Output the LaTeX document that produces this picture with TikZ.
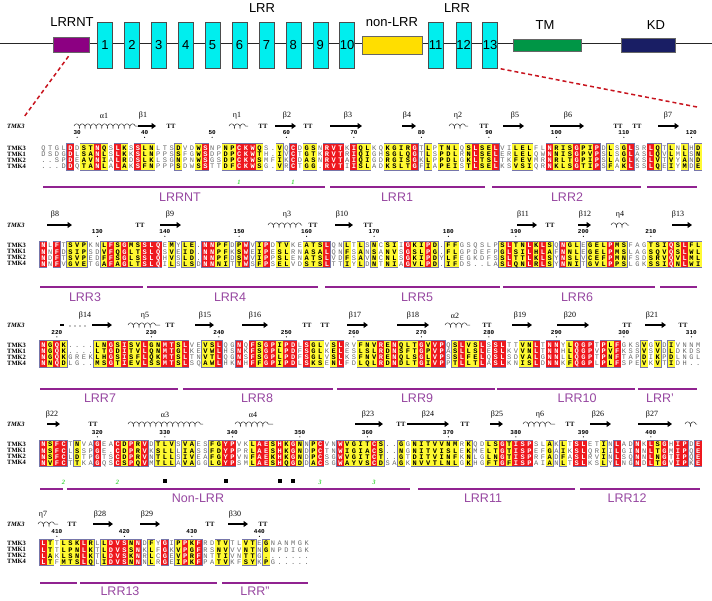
\documentclass[tikz,border=0pt]{standalone}
\usepackage{fontspec}
\setmainfont{Liberation Serif}
\setsansfont{Liberation Sans}
\setmonofont{Liberation Mono}
\usetikzlibrary{arrows.meta,decorations.pathmorphing}

\definecolor{espred}{RGB}{238,24,30}
\definecolor{espyellow}{RGB}{255,250,50}
\definecolor{espframe}{RGB}{118,118,170}
\definecolor{resgrey}{RGB}{105,105,105}
\definecolor{lrrpurple}{RGB}{145,35,145}
\definecolor{labpurple}{RGB}{150,70,160}
\definecolor{lrrcyan}{RGB}{0,238,238}
\definecolor{ntpurple}{RGB}{140,0,130}
\definecolor{nonyellow}{RGB}{255,222,0}
\definecolor{tmgreen}{RGB}{0,150,70}
\definecolor{kdnavy}{RGB}{25,30,100}
\definecolor{bridgegreen}{RGB}{60,215,60}
\definecolor{zoomred}{RGB}{200,20,30}

\tikzset{
  resr/.style={anchor=base,inner sep=0pt,font=\fontsize{7}{8}\ttfamily\bfseries,text=white},
  resy/.style={anchor=base,inner sep=0pt,font=\fontsize{7}{8}\ttfamily\bfseries,text=black},
  resw/.style={anchor=base,inner sep=0pt,font=\fontsize{7}{8}\ttfamily,text=resgrey},
  rowlab/.style={anchor=west,inner sep=0pt,font=\fontsize{6.5}{7}\selectfont\bfseries},
  sslab/.style={inner sep=0pt,font=\fontsize{8}{9}\selectfont},
  ttlab/.style={inner sep=0pt,font=\fontsize{6.5}{7}\selectfont\bfseries},
  numlab/.style={inner sep=0pt,font=\fontsize{6}{7}\ttfamily\bfseries},
  strand/.style={line width=1.6pt,-{Triangle[length=4.5pt,width=6pt]}},
  helix/.style={decorate,decoration={coil,aspect=0.55,segment length=5.6pt,amplitude=2.2pt},line width=0.5pt,black!80},
  domline/.style={lrrpurple,line width=1.8pt},
  domlab/.style={inner sep=0pt,font=\fontsize{12.5}{14}\sffamily,text=labpurple},
  bridge/.style={inner sep=0pt,font=\fontsize{6.5}{7}\selectfont\bfseries\itshape,text=bridgegreen},
  bridgesq/.style={fill=black,inner sep=0pt,minimum size=4pt},
  lrrbox/.style={draw=black!70,fill=lrrcyan,minimum width=15pt,minimum height=46pt,inner sep=0pt,font=\fontsize{13}{13}\sffamily},
  domainbox/.style={draw=black!60,inner sep=0pt},
  toplab/.style={inner sep=0pt,font=\fontsize{13}{14}\sffamily},
  zoomline/.style={zoomred,line width=1.5pt,dash pattern=on 4pt off 3pt}
}

\makeatletter
\newcount\rescol
\newcount\turnno
\def\SetMask#1{\global\rescol=0 \mask@loop#1\@nil\xdef\masklen{\the\rescol}}
\def\mask@loop#1{\ifx#1\@nil\else\expandafter\xdef\csname cm@\the\rescol\endcsname{#1}\global\advance\rescol by 1 \expandafter\mask@loop\fi}
\def\DrawMask#1#2{%
  \pgfmathtruncatemacro\mlast{\masklen-1}%
  \foreach \i in {0,...,\mlast}{%
    \if w\csname cm@\i\endcsname\else
      \fill[espframe] ({39.3+\i*6.75},{#1-0.7}) rectangle ({47.45+\i*6.75},{#2+0.7});
    \fi}%
  \foreach \i in {0,...,\mlast}{%
    \if r\csname cm@\i\endcsname \fill[espred] ({39.85+\i*6.75},#1) rectangle ({46.9+\i*6.75},#2);\fi
    \if y\csname cm@\i\endcsname \fill[espyellow] ({39.85+\i*6.75},#1) rectangle ({46.9+\i*6.75},#2);\fi}}
\def\SeqRow#1#2#3{\pgfmathsetmacro\seqy{#1+2.4}\def\rowtag{#2}\global\rescol=0 \seq@loop#3\@nil}
\def\seq@loop#1{\ifx#1\@nil\else
  \pgfmathsetmacro\seqxx{43.375+\the\rescol*6.75}%
  \edef\seq@cmd{\noexpand\node[res\csname cm@\the\rescol\endcsname] (\rowtag-\the\rescol) at (\seqxx,\seqy) {#1};}%
  \seq@cmd\global\advance\rescol by 1 \expandafter\seq@loop\fi}
\makeatother

\newcommand{\SeqBlock}[7]{%
  \SetMask{#3}%
  \pgfmathsetmacro\mtop{#2-4}\pgfmathsetmacro\mbot{#2+3*6.1+3.6}%
  \DrawMask{\mtop}{\mbot}%
  \node[rowlab] (#1k3) at (7,#2) {TMK3};\SeqRow{#2}{#1k3}{#4}%
  \node[rowlab] (#1k1) at (7,#2+6.1) {TMK1};\SeqRow{#2+6.1}{#1k1}{#5}%
  \node[rowlab] (#1k2) at (7,#2+12.2) {TMK2};\SeqRow{#2+12.2}{#1k2}{#6}%
  \node[rowlab] (#1k4) at (7,#2+18.3) {TMK4};\SeqRow{#2+18.3}{#1k4}{#7}}
\newcommand{\ResNum}[2]{\pgfmathsetmacro\numx{43.375+#1*6.75}%
  \node[numlab] (num#2) at (\numx,\numy) {#2}; \fill (\numx,\numy+4.3) circle (0.6);}
\newcommand{\ssturn}[1]{\global\advance\turnno by 1 \node[ttlab] (tt\the\turnno) at (#1,\ssy) {TT};}
\newcommand{\sstrand}[4]{\draw[strand] (#2,\ssy) -- (#3,\ssy); \node[sslab] (beta#1) at (#4,\ssly) {β#1};}
\newcommand{\shelix}[5]{\draw[helix] (#3,\ssy) -- (#4,\ssy); \node[sslab] (#1) at (#5,\ssly) {#2};}

\begin{document}
\begin{tikzpicture}[x=1pt,y=-1pt]
  \useasboundingbox (0,0) rectangle (712,600);
  % domain map
  \draw[line width=1.3pt,black!85] (0,43.5) -- (712,43.5);
  \node[domainbox,fill=ntpurple,minimum width=36pt,minimum height=15pt] (ntbox) at (71.5,44.5) {};
  \node[toplab] (ntname) at (72,22) {LRRNT};
  \foreach \n in {1,...,10}{ \pgfmathsetmacro\bx{105+26.9*(\n-1)} \node[lrrbox] (lrr\n) at (\bx,45) {\n}; }
  \foreach \n/\bx in {11/435.5,12/463.5,13/490}{ \node[lrrbox] (lrr\n) at (\bx,45) {\n}; }
  \node[toplab] (lrrname) at (262,8.5) {LRR}; \node[toplab] (lrrnameb) at (457,8.5) {LRR};
  \node[domainbox,fill=nonyellow,minimum width=60pt,minimum height=18pt] (nonbox) at (392,45) {};
  \node[toplab] (nonname) at (392,22) {non-LRR};
  \node[domainbox,fill=tmgreen,minimum width=68pt,minimum height=12pt] (tmbox) at (547,45) {};
  \node[toplab] (tmname) at (545,25) {TM};
  \node[domainbox,fill=kdnavy,minimum width=54pt,minimum height=14pt] (kdbox) at (648,45) {};
  \node[toplab] (kdname) at (656,25) {KD};
  \coordinate (zoomL) at (24,117); \coordinate (zoomR) at (697,107);
  \draw[zoomline,shorten <=5pt] (ntbox.south) -- (zoomL);
  \draw[zoomline,shorten <=3pt] (lrr13.south east) -- (zoomR);

  % block 1
  \def\ssy{126}\def\ssly{116}\def\numy{133}
  \node[rowlab,font=\fontsize{6.5}{7}\selectfont\bfseries\itshape] (ssa) at (7,\ssy) {TMK3};
  \shelix{a1}{α1}{74}{138}{104} \sstrand{1}{138}{156}{143} \ssturn{171}
  \shelix{e1}{η1}{229}{248}{237} \ssturn{263} \sstrand{2}{275}{296}{287} \ssturn{308}
  \sstrand{3}{330}{362}{348} \sstrand{4}{402}{416}{407} \shelix{e2}{η2}{449}{468}{458} \ssturn{484}
  \sstrand{5}{503}{524}{515} \sstrand{6}{550}{584}{568} \ssturn{618} \ssturn{637} \sstrand{7}{658}{679}{668}
  \ResNum{5}{30} \ResNum{15}{40} \ResNum{25}{50} \ResNum{36}{60} \ResNum{46}{70}
  \ResNum{56}{80} \ResNum{66}{90} \ResNum{76}{100} \ResNum{86}{110} \ResNum{96}{120}
  \SeqBlock{ba}{148}{wwwwrwyyry wrywryywww ywwyrwwyyr rrywwywrwy ywrrrwryyw wyyyyrwywy yywyryyrww yyywwryyyr yyrwywyrww rywywywy}
    {QTGLDDSTNQSLKSSLNLTSDVDWSNPNPCKWQS.VQCDGSNRVTKIQLKQKGIRGTLPTNLQSLSELVILELFLNRISGPIPDLSGLSRLQTLNLHD}
    {DSDGDLSANLSLKKSLNPPSSFGWSDPDPCKWTH.IVCTGTKRVTRIQIGHSGLQGTLSPDLRNLSELERLELQWNNISGPVPSLSGLASLQVLMLSN}
    {..SPDEAVNIALRDSLKLSGNPNWSGSDPCKWSMFIKCDASNRVTAIQIGDRGISGKLPPDLGKLTSLTKFEVMRNRLTGPIPSLAGLKSLVTVYAND}
    {...DDQTANLALAKSFNPPPSDWSSTTDFCKWSG.VRCTGG.RVTIISLADKSLTGFIAPEISTLSELKSVSIQRNKLSGTIPSFAKLSSLQEIYMDE}
  \node[bridge] (ssb1) at (239.1,182) {1}; \node[bridge] (ssb2) at (293.1,182) {1};
  \draw[domline] (43,187) -- (325,187); \node[domlab] (labnt) at (180,197) {LRRNT};
  \draw[domline] (330,187) -- (485,187); \node[domlab] (lab1) at (397,197) {LRR1};
  \draw[domline] (492,187) -- (641,187); \node[domlab] (lab2) at (567,197) {LRR2};
  \draw[domline] (647,187) -- (697,187);

  % block 2
  \def\ssy{225}\def\ssly{215}\def\numy{232}
  \node[rowlab,font=\fontsize{6.5}{7}\selectfont\bfseries\itshape] (ssb) at (7,\ssy) {TMK3};
  \sstrand{8}{47}{72}{55} \ssturn{140} \sstrand{9}{160}{181}{170} \shelix{e3}{η3}{268}{302}{287} \ssturn{313}
  \sstrand{10}{335}{353}{342} \ssturn{368} \sstrand{11}{517}{537}{523} \ssturn{550}
  \sstrand{12}{578}{591}{585} \shelix{e4}{η4}{611}{629}{620} \sstrand{13}{672}{692}{678}
  \ResNum{8}{130} \ResNum{18}{140} \ResNum{29}{150} \ResNum{39}{160} \ResNum{49}{170}
  \ResNum{60}{180} \ResNum{70}{190} \ResNum{80}{200} \ResNum{90}{210}
  \SeqBlock{bb}{245.5}{rwrwyyywwy ryryyrrrwy wyywrryywy rwyrwyywwy yyrwwywywy wyywryyryw yywwwwwwyr yyryrywryy wyyyryywww yyyryryy}
    {NLFTSVPKNLFSGMSSLQEMYLE.NNPFDPWVIPDTVKEATSLQNLTLSNCSIIGKIPD.FFGSQSLPSLTNLKLSQNGLEGELPMSFAGTSIQSLFL}
    {NNFDSIPSDVFQGLTSLQSVEID.NNPFKSWEIPESLRNASALQNFSANSANVSGSLPG.FLGPDEFPGLSILHLAFNNLEGELPMSLAGSQVQSLWL}
    {NDFTSVPEDFFSGLSSLQHVSLD.NNPFDSWVIPPSLENATSLVDFSAVNCNLSGKIPDYLFEGKDFSSLTTLKLSYNSLVCEFPMNFSDSRVQVLML}
    {NNFVGVETGAFAGLTSLQILSLSDNNNITTWSFPSELVDSTSLTTIYLDNTNIAGVLPD.IFDS..LASLQNLRLSYNNITGVLPPSLGKSSIQNLWI}
  \draw[domline] (40,287) -- (143,287); \node[domlab] (lab3) at (85,297) {LRR3};
  \draw[domline] (147,287) -- (318,287); \node[domlab] (lab4) at (230,297) {LRR4};
  \draw[domline] (325,287) -- (500,287); \node[domlab] (lab5) at (417,297) {LRR5};
  \draw[domline] (503,287) -- (655,287); \node[domlab] (lab6) at (577,297) {LRR6};
  \draw[domline] (660,287) -- (697,287);

  % block 3
  \def\ssy{325}\def\ssly{316}\def\numy{332.5}
  \node[rowlab,font=\fontsize{6.5}{7}\selectfont\bfseries\itshape] (ssc) at (7,\ssy) {TMK3};
  \draw[line width=1.2pt] (60,\ssy) -- (64,\ssy);
  \foreach \x in {70,75,80,85} \fill (\x,\ssy+1) circle (0.6);
  \sstrand{14}{92}{112}{85} \shelix{e5}{η5}{128}{160}{145} \ssturn{170}
  \sstrand{15}{195}{214}{205} \sstrand{16}{242}{268}{255} \ssturn{307} \ssturn{325}
  \sstrand{17}{347}{368}{355} \sstrand{18}{397}{429}{413} \shelix{a2}{α2}{445}{470}{455} \ssturn{487}
  \sstrand{19}{512}{532}{520} \sstrand{20}{557}{589}{570} \ssturn{627} \sstrand{21}{645}{666}{652} \ssturn{683}
  \ResNum{2}{220} \ResNum{16}{230} \ResNum{26}{240} \ResNum{36}{250} \ResNum{46}{260}
  \ResNum{56}{270} \ResNum{66}{280} \ResNum{76}{290} \ResNum{86}{300} \ResNum{96}{310}
  \SeqBlock{bc}{345}{ryrywwwwyy ryryyryyrr yrwwyyrwwr wryrryrrwr yywyrwwyyy ryryyyryrr wyryyrwrrw wyyrwrrwyr rrwryrwwwy wywywwww}
    {NGQK....LNGSISVLGNMTSLVEVSLQGNQFSGPIPDLSGLVSLRVFNVRENQLTGVVPQSLVSLSSLTTVNLTNNYLQGPTPLFGKSVGVDIVNNM}
    {NGQK....LTGDITVLQNMTGLKEVWLHSNKFSGPLPDFSGLKELESLSLRDNSFTGPVPASLLSLESLKVVNLTNNHLQGPVPVFKSSVSVDLDKDS}
    {NGQKGREKLHGSISFLQKMTSLTNVTLQGNSFSGPLPDFSGLVSLKSFNVRENQLSGLVPSSLFELQSLSDVALGNNLLQGPTPNFTAPDIKPDLNGL}
    {NNQDLG..MSGTIEVLSSMTSLSQAWLHKNHFFGPIPDLSKSENLFDLQLRDNDLTGIVPPTLLTLASLKNISLDNNKFQGPLPLFSPEVKVTIDH..}
  \draw[domline] (40,389) -- (178,389); \node[domlab] (lab7) at (100,398) {LRR7};
  \draw[domline] (183,389) -- (333,389); \node[domlab] (lab8) at (257,398) {LRR8};
  \draw[domline] (337,389) -- (495,389); \node[domlab] (lab9) at (417,398) {LRR9};
  \draw[domline] (497,389) -- (635,389); \node[domlab] (lab10) at (577,398) {LRR10};
  \draw[domline] (638,389) -- (697,389); \node[domlab] (labp) at (660,398) {LRR'};

  % block 4
  \def\ssy{424}\def\ssly{415}\def\numy{432.5}
  \node[rowlab,font=\fontsize{6.5}{7}\selectfont\bfseries\itshape] (ssd) at (7,\ssy) {TMK3};
  \sstrand{22}{47}{60}{52} \ssturn{93} \shelix{a3}{α3}{128}{203}{165} \shelix{a4}{α4}{235}{273}{253}
  \sstrand{23}{355}{383}{368} \ssturn{401} \sstrand{24}{407}{449}{428} \ssturn{465}
  \sstrand{25}{490}{503}{497} \shelix{e6}{η6}{523}{555}{540} \ssturn{570}
  \sstrand{26}{590}{611}{598} \sstrand{27}{638}{672}{652}
  \draw[helix] (685,\ssy) -- (697,\ssy);
  \ResNum{8}{320} \ResNum{18}{330} \ResNum{28}{340} \ResNum{38}{350} \ResNum{48}{360}
  \ResNum{60}{370} \ResNum{70}{380} \ResNum{80}{390} \ResNum{90}{400}
  \SeqBlock{bd}{444.5}{ryrrwywwrw wryryrwyyy wyywwyyrrw wyrryryryw yrwwryyyyr ywwywyyyyy yywywwyyry rrrwwywywr rwwywrwwrw ryrwrrwr}
    {NSFCTNVAGEACDPRVDTLVSVAESFGYPVKLAESHKGNNPCVNWVGITCS..GGNITVVNMRKQDLSGTISPSLAKLTSLETINLADNKLSGHIPDE}
    {NSFCLSSPGE.CDPRVKSLLLIASSFDYPPRLAESHKGNDPCTNWIGIACS..NGNITVISLEKMELTGTISPEFGAIKSLQRIILGINNLTGMIPQE}
    {NSFCLDTPGTSCDPRVNTLLSIVEAFGYPVNFAEKHKGNDPCSGWVGITCT..GTDITVINFKNLGLNGTISPRFADFASLRVINLSQNNLNGTIPQE}
    {NVFCTTKAGQSCSPQVMTLLAVAGGLGYPSMLAESHQGDDACSGWAYVSCDSAGKNVVTLNLGKHGFTGFISPAIANLTSLKSLYLNGNDLTGVIPKE}
  \node[bridge] (ssb3) at (63.6,482) {2}; \node[bridge] (ssb4) at (117.6,482) {2};
  \node[bridge] (ssb5) at (320.1,482) {3}; \node[bridge] (ssb6) at (374.1,482) {3};
  \node[bridgesq] (sq1) at (164.9,481) {}; \node[bridgesq] (sq2) at (225.6,481) {};
  \node[bridgesq] (sq3) at (279.6,481) {}; \node[bridgesq] (sq4) at (293.1,481) {};
  \draw[domline] (40,489) -- (63,489);
  \draw[domline] (67,489) -- (410,489); \node[domlab] (labnon) at (198,498) {Non-LRR};
  \draw[domline] (418,489) -- (575,489); \node[domlab] (lab11) at (483,498) {LRR11};
  \draw[domline] (580,489) -- (700,489); \node[domlab] (lab12) at (627,498) {LRR12};

  % block 5
  \def\ssy{524}\def\ssly{515}\def\numy{532}
  \node[rowlab,font=\fontsize{6.5}{7}\selectfont\bfseries\itshape] (sse) at (7,\ssy) {TMK3};
  \shelix{e7}{η7}{38}{58}{43} \ssturn{72} \sstrand{28}{93}{113}{100} \sstrand{29}{140}{160}{147}
  \ssturn{210} \sstrand{30}{228}{248}{235} \ssturn{263}
  \ResNum{2}{410} \ResNum{12}{420} \ResNum{22}{430} \ResNum{32}{440}
  \SeqBlock{be}{543.5}{rywyyyrywy rrryrwywrw yryrwwyyww yywywwwwww}
    {LTTLSKLRLLDVSNNDFYGIPPKFRDTVTLVTEGNANMGK}
    {LTTLPNLKTLDVSSNKLFGKVPGFRSNVVVNTNGNPDIGK}
    {LAKLSNLKTLDVSKNRLCGEVPRFNTTIVNTTG.......}
    {LTFMTSLQLIDVSNNNLRGEIPKFPATVKFSYKPG.....}
  \draw[domline] (40,583) -- (77,583);
  \draw[domline] (80,583) -- (217,583); \node[domlab] (lab13) at (120,591) {LRR13};
  \draw[domline] (222,583) -- (308,583); \node[domlab] (labpp) at (255,591) {LRR''};
\end{tikzpicture}
\end{document}
